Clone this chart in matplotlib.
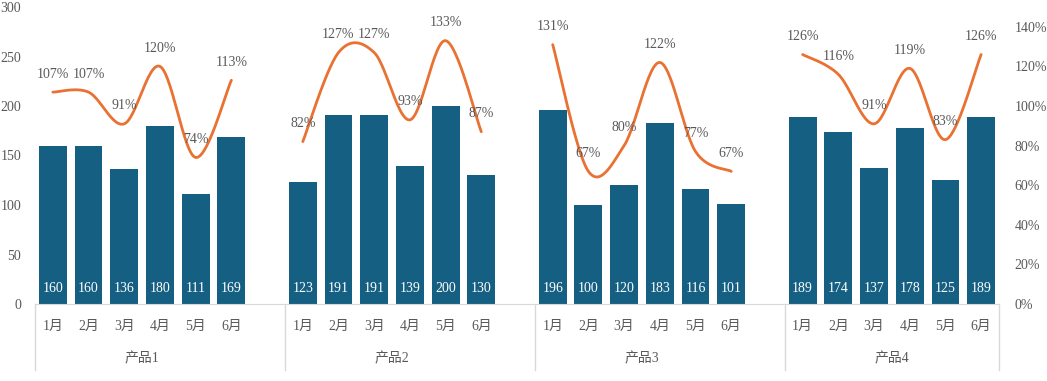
import numpy as np
import matplotlib
matplotlib.use("Agg")
from matplotlib import pyplot as plt
from matplotlib.lines import Line2D

plt.rcParams['font.family'] = ['Liberation Serif', 'Noto Sans CJK SC']

# data
groups = ['产品1', '产品2', '产品3', '产品4']
months = ['1月', '2月', '3月', '4月', '5月', '6月']
sales = [
    [160, 160, 136, 180, 111, 169],
    [123, 191, 191, 139, 200, 130],
    [196, 100, 120, 183, 116, 101],
    [189, 174, 137, 178, 125, 189],
]
rates = [
    [107, 107, 91, 120, 74, 113],
    [82, 127, 127, 93, 133, 87],
    [131, 67, 80, 122, 77, 67],
    [126, 116, 91, 119, 83, 126],
]

bar_color = '#156082'
line_color = '#E97132'
text_color = '#595959'
axis_color = '#D9D9D9'


def smooth(xs, ys, n=30):
    # Catmull-Rom style bezier smoothing like Excel's smoothed line
    xs = np.asarray(xs, float)
    ys = np.asarray(ys, float)
    px = np.concatenate([[xs[0]], xs, [xs[-1]]])
    py = np.concatenate([[ys[0]], ys, [ys[-1]]])
    out_x, out_y = [], []
    t = np.linspace(0, 1, n)
    for i in range(1, len(px) - 2):
        p0 = np.array([px[i], py[i]])
        p3 = np.array([px[i + 1], py[i + 1]])
        p1 = p0 + (p3 - np.array([px[i - 1], py[i - 1]])) / 6
        p2 = p3 - (np.array([px[i + 2], py[i + 2]]) - p0) / 6
        b = ((1 - t) ** 3)[:, None] * p0 + (3 * (1 - t) ** 2 * t)[:, None] * p1 \
            + (3 * (1 - t) * t ** 2)[:, None] * p2 + (t ** 3)[:, None] * p3
        out_x.extend(b[:, 0])
        out_y.extend(b[:, 1])
    return out_x, out_y


fig = plt.figure(figsize=(10.47, 3.81), dpi=100)
ax = fig.add_axes([35 / 1047, 77 / 381, 964 / 1047, 297 / 381])
ax2 = ax.twinx()

slot = 7
xticks, xlabels = [], []
for g, name in enumerate(groups):
    xs = [g * slot + m for m in range(len(months))]
    ax.bar(xs, sales[g], width=0.78, color=bar_color, zorder=2)
    for x, v in zip(xs, sales[g]):
        ax.annotate(str(v), (x, 0), xytext=(0, 11), textcoords='offset points',
                    ha='center', va='center', color='white', fontsize=10)
    lx, ly = smooth(xs, rates[g])
    ax2.plot(lx, ly, color=line_color, lw=2, solid_capstyle='round')
    for x, r in zip(xs, rates[g]):
        ax2.annotate(f'{r}%', (x, r), xytext=(0, 13), textcoords='offset points',
                     ha='center', va='center', color=text_color, fontsize=10)
    xticks += xs
    xlabels += months
    ax.annotate(name, (g * slot + 2.5, 0), xycoords=('data', 'axes fraction'),
                xytext=(0, -39.5), textcoords='offset points', ha='center', va='center',
                color=text_color, fontsize=10)

ax.set_xlim(-0.5, 26.5)
ax.set_ylim(0, 300)
ax.set_yticks(range(0, 301, 50))
ax2.set_ylim(0, 150)
ax2.set_yticks(range(0, 141, 20))
ax2.set_yticklabels([f'{v}%' for v in range(0, 141, 20)])

ax.set_xticks(xticks)
ax.set_xticklabels(xlabels)
ax.tick_params(axis='x', length=0, pad=11.5, labelsize=10, labelcolor=text_color)
ax.tick_params(axis='y', length=0, pad=10, labelsize=10, labelcolor=text_color)
ax2.tick_params(axis='y', length=0, pad=11, labelsize=10, labelcolor=text_color)

for a in (ax, ax2):
    for s in ('top', 'left', 'right'):
        a.spines[s].set_visible(False)
    a.spines['bottom'].set_color(axis_color)
ax2.spines['bottom'].set_visible(False)

# group separators below axis
for sx in [-0.5, 6.5, 13.5, 20.5, 26.5]:
    ax.add_line(Line2D([sx, sx], [0, -66 / 297], transform=ax.get_xaxis_transform(),
                       color=axis_color, lw=1, clip_on=False))

fig.savefig('out.png', dpi=100)
